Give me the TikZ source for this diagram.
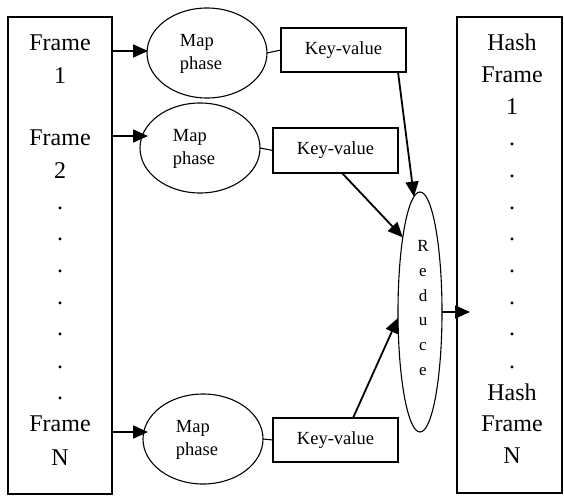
\documentclass[tikz,border=0pt]{standalone}
\usepackage{fontspec}
\setmainfont{Liberation Serif}
\usetikzlibrary{shapes.geometric,arrows.meta}
\begin{document}
\begin{tikzpicture}[x=1pt,y=-1pt,
  bigbox/.style={draw, line width=1.3pt, inner sep=0pt, outer sep=0pt},
  bigtext/.style={font=\fontsize{24}{30}\selectfont, inner sep=0pt, anchor=base},
  mapell/.style={draw, ellipse, line width=1.1pt, inner sep=0pt, outer sep=0pt, minimum width=120pt, minimum height=90pt},
  maptext/.style={font=\fontsize{18.5}{22.5}\selectfont, align=left, inner sep=0pt},
  kvbox/.style={draw, line width=1.3pt, inner sep=0pt, outer sep=0pt, minimum width=125pt, minimum height=44pt, font=\fontsize{18.5}{22.5}\selectfont},
  redell/.style={draw, ellipse, line width=1.1pt, inner sep=0pt, outer sep=0pt, minimum width=44pt, minimum height=240pt},
  redtext/.style={font=\fontsize{17}{24.8}\selectfont, align=center, inner sep=0pt},
  link/.style={line width=1.1pt},
  arr/.style={line width=1.8pt, -{Triangle[length=15pt, width=13pt]}}]
\useasboundingbox (0,0) rectangle (564,495);

% left and right columns
\node[bigbox, minimum width=104pt, minimum height=477pt] (lrect) at (60,255.5) {};
\node[bigbox, minimum width=105pt, minimum height=476pt] (rrect) at (509.5,255) {};

\foreach \t/\y [count=\i] in {Frame/51, 1/83, Frame/145, 2/178, ./209, ./240, ./272, ./304, ./335, ./368, ./399, Frame/431, N/465}
  \node[bigtext] (lt\i) at (60,\y) {\t};

\foreach \t/\y [count=\i] in {Hash/51, Frame/82, 1/114, ./145, ./177, ./209, ./240, ./272, ./304, ./335, ./368, Hash/400, Frame/431, N/463}
  \node[bigtext] (rt\i) at (512,\y) {\t};

% map phase ellipses
\node[mapell] (m1) at (207,53) {};
\node[mapell] (m2) at (200,148) {};
\node[mapell] (m3) at (203,439) {};
\node[maptext] (mt1) at ([xshift=-6pt,yshift=-1pt]m1.center) {Map\\phase};
\node[maptext] (mt2) at ([xshift=-6pt,yshift=-1pt]m2.center) {Map\\phase};
\node[maptext] (mt3) at ([xshift=-6pt,yshift=-1pt]m3.center) {Map\\phase};

% key-value boxes
\node[kvbox] (k1) at (343.5,50) {Key-value};
\node[kvbox, minimum height=45pt] (k2) at (335.5,150.5) {Key-value};
\node[kvbox] (k3) at (335.5,440) {Key-value};

\draw[link] (m1.east) -- (k1.west);
\draw[link] (m2.east) -- (k2.west);
\draw[link] (m3.east) -- (k3.west);

% reduce
\node[redell] (r) at (420,312) {};
\node[redtext] (rt) at (423,308) {R\\e\\d\\u\\c\\e};

% arrows from frames to map phases
\coordinate (a1) at (148,51);
\coordinate (a2) at (148,136);
\coordinate (a3) at (148,432);
\draw[arr] (lrect.east |- a1) -- (a1);
\draw[arr] (lrect.east |- a2) -- (a2);
\draw[arr] (lrect.east |- a3) -- (a3);

% arrows into reduce
\draw[arr] ([xshift=-8pt]k1.south east) -- (r.93);
\draw[arr] ([xshift=6.5pt]k2.south) -- (r.103);
\draw[arr] ([xshift=17.5pt]k3.north) -- (r.195);

% reduce to hash frames
\coordinate (hin) at (470,312);
\draw[arr] (r.east) -- (hin);
\end{tikzpicture}
\end{document}
